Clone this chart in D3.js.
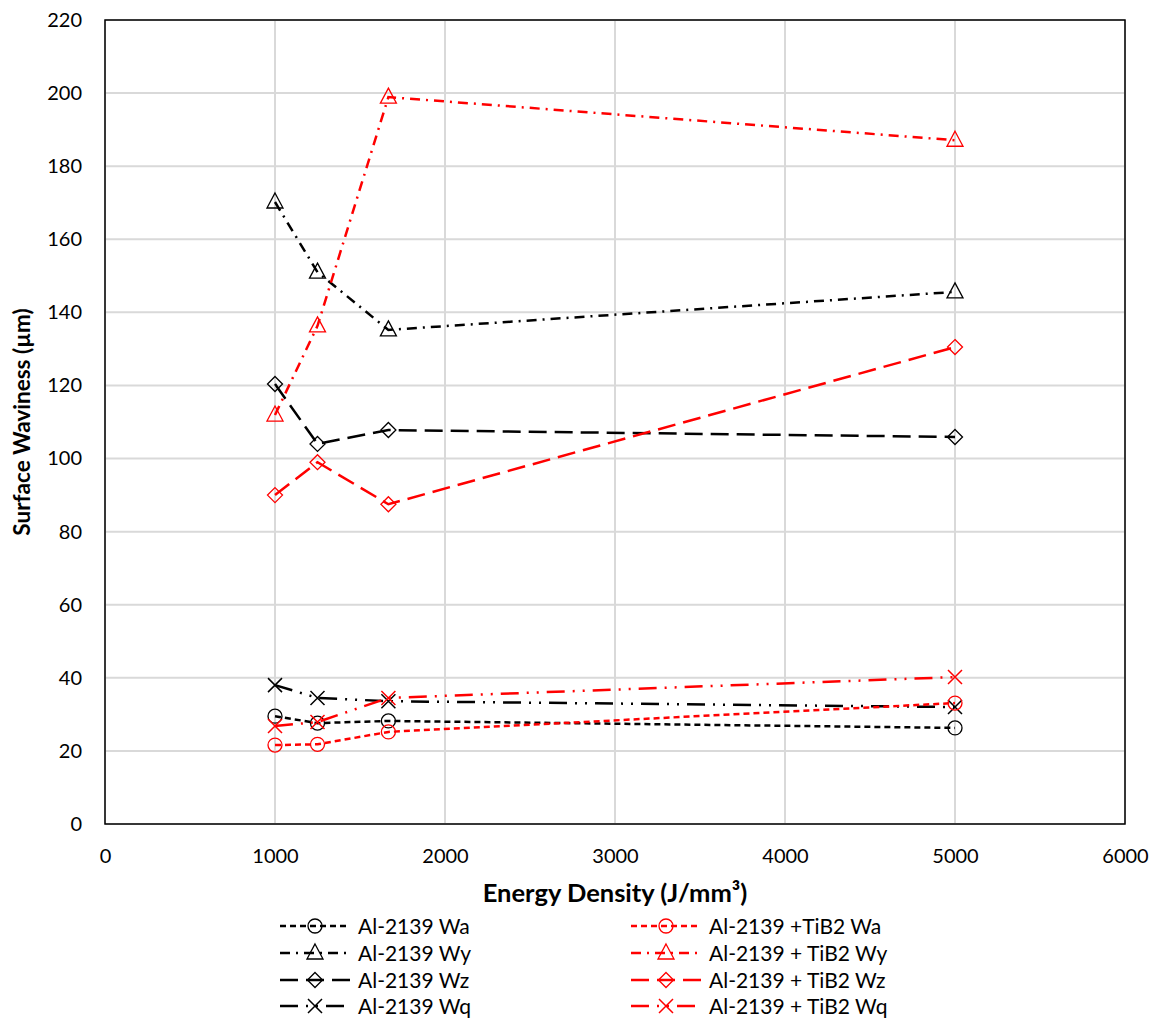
<!DOCTYPE html>
<html>
<head>
<meta charset="utf-8">
<script src="https://cdn.jsdelivr.net/npm/d3@7"></script>
<style>
  body { margin: 0; background: #fff; }
  text { fill: #000; font-family: Lato, 'Liberation Sans', sans-serif; }
</style>
</head>
<body>
<div id="chart"></div>
<script>
// energy density values (J/mm3)
var energy = [1000, 1250, 1667, 5000];

// surface waviness values (um)
var alWa = [29.5, 27.6, 28.2, 26.3];
var alWy = [170.2, 151.0, 135.2, 145.6];
var alWz = [120.4, 104.0, 107.8, 105.9];
var alWq = [38.0, 34.5, 33.6, 32.0];
var tiWa = [21.6, 21.8, 25.2, 33.1];
var tiWy = [111.9, 136.3, 198.9, 187.1];
var tiWz = [90.0, 99.0, 87.5, 130.5];
var tiWq = [26.8, 27.9, 34.5, 40.2];

var seriesNames = ["Al-2139 Wa", "Al-2139 Wy", "Al-2139 Wz", "Al-2139 Wq",
                   "Al-2139 +TiB2 Wa", "Al-2139 + TiB2 Wy", "Al-2139 + TiB2 Wz", "Al-2139 + TiB2 Wq"];
var xTicks = [0, 1000, 2000, 3000, 4000, 5000, 6000];
var yTicks = [0, 20, 40, 60, 80, 100, 120, 140, 160, 180, 200, 220];

var width = 1151, height = 1021;
var margin = {left: 105, right: 26, top: 20, bottom: 197};

var svg = d3.select("#chart").append("svg")
    .attr("width", width)
    .attr("height", height);

var x = d3.scaleLinear().domain([0, 6000]).range([margin.left, width - margin.right]);
var y = d3.scaleLinear().domain([0, 220]).range([height - margin.bottom, margin.top]);

// gridlines
svg.append("g").selectAll("line").data(yTicks).enter().append("line")
    .attr("x1", x(0)).attr("x2", x(6000))
    .attr("y1", function (d) { return y(d); }).attr("y2", function (d) { return y(d); })
    .attr("stroke", "#d9d9d9").attr("stroke-width", 2);
svg.append("g").selectAll("line").data(xTicks).enter().append("line")
    .attr("y1", y(0)).attr("y2", y(220))
    .attr("x1", function (d) { return x(d); }).attr("x2", function (d) { return x(d); })
    .attr("stroke", "#d9d9d9").attr("stroke-width", 2);

// frame
svg.append("rect")
    .attr("x", x(0)).attr("y", y(220))
    .attr("width", x(6000) - x(0)).attr("height", y(0) - y(220))
    .attr("fill", "none").attr("stroke", "#000").attr("stroke-width", 1.5);

// axes (labels only)
var xAxis = svg.append("g")
    .attr("transform", "translate(0," + y(0) + ")")
    .call(d3.axisBottom(x).tickValues(xTicks).tickSize(0).tickPadding(25).tickFormat(d3.format("d")));
xAxis.select(".domain").remove();
xAxis.selectAll("text")
    .style("font-family", "Lato, 'Liberation Sans', sans-serif")
    .style("font-size", "20px").attr("fill", "#000");

var yAxis = svg.append("g")
    .attr("transform", "translate(" + x(0) + ",0)")
    .call(d3.axisLeft(y).tickValues(yTicks).tickSize(0).tickPadding(23));
yAxis.select(".domain").remove();
yAxis.selectAll("text")
    .style("font-family", "Lato, 'Liberation Sans', sans-serif")
    .style("font-size", "20px").attr("fill", "#000");

// axis titles
svg.append("text")
    .attr("x", x(3000)).attr("y", 902)
    .attr("text-anchor", "middle")
    .style("font-weight", "bold").style("font-size", "25.5px")
    .text("Energy Density (J/mm³)");

svg.append("text")
    .attr("transform", "translate(30," + y(110) + ") rotate(-90)")
    .attr("text-anchor", "middle")
    .style("font-weight", "bold").style("font-size", "22.5px")
    .text("Surface Waviness (µm)");

// series styles
var allValues = [alWa, alWy, alWz, alWq, tiWa, tiWy, tiWz, tiWq];
var colors = ["#000", "#000", "#000", "#000", "#ff0000", "#ff0000", "#ff0000", "#ff0000"];
var dashes = ["6,4", "10,6,2,6", "18,8", "18,8,2,8,2,8", "6,4", "10,6,2,6", "18,8", "18,8,2,8,2,8"];
var markers = ["circle", "triangle", "diamond", "x", "circle", "triangle", "diamond", "x"];

var series = allValues.map(function (vals, i) {
    return {
        name: seriesNames[i], color: colors[i], dash: dashes[i], marker: markers[i],
        points: energy.map(function (e, j) { return {x: e, y: vals[j]}; })
    };
});

var line = d3.line()
    .x(function (d) { return x(d.x); })
    .y(function (d) { return y(d.y); });

function drawMarker(g, type, color) {
    if (type === "circle") {
        g.append("circle").attr("r", 7).attr("fill", "none").attr("stroke", color).attr("stroke-width", 1.3);
    } else if (type === "triangle") {
        g.append("path").attr("d", "M0,-9L8,6L-8,6Z").attr("fill", "none").attr("stroke", color).attr("stroke-width", 1.3);
    } else if (type === "diamond") {
        g.append("path").attr("d", "M0,-7.5L7.5,0L0,7.5L-7.5,0Z").attr("fill", "none").attr("stroke", color).attr("stroke-width", 1.3);
    } else if (type === "x") {
        g.append("path").attr("d", "M-7,-7L7,7M-7,7L7,-7").attr("fill", "none").attr("stroke", color).attr("stroke-width", 1.5);
    }
}

series.forEach(function (s) {
    svg.append("path")
        .attr("d", line(s.points))
        .attr("fill", "none")
        .attr("stroke", s.color)
        .attr("stroke-width", 2.5)
        .attr("stroke-dasharray", s.dash);
    s.points.forEach(function (p) {
        var g = svg.append("g").attr("transform", "translate(" + x(p.x) + "," + y(p.y) + ")");
        drawMarker(g, s.marker, s.color);
    });
});

// legend
var legendRows = [926, 953, 980, 1006];
series.forEach(function (s, i) {
    var col = i < 4 ? 0 : 1;
    var row = i % 4;
    var lx = col === 0 ? 280 : 631;
    var ly = legendRows[row];
    svg.append("line")
        .attr("x1", lx).attr("x2", lx + 70)
        .attr("y1", ly).attr("y2", ly)
        .attr("stroke", s.color).attr("stroke-width", 2.5)
        .attr("stroke-dasharray", s.dash);
    var g = svg.append("g").attr("transform", "translate(" + (lx + 35) + "," + ly + ")");
    drawMarker(g, s.marker, s.color);
    svg.append("text")
        .attr("x", lx + 78).attr("y", ly + 8)
        .style("font-size", "21px")
        .text(s.name);
});
</script>
</body>
</html>
